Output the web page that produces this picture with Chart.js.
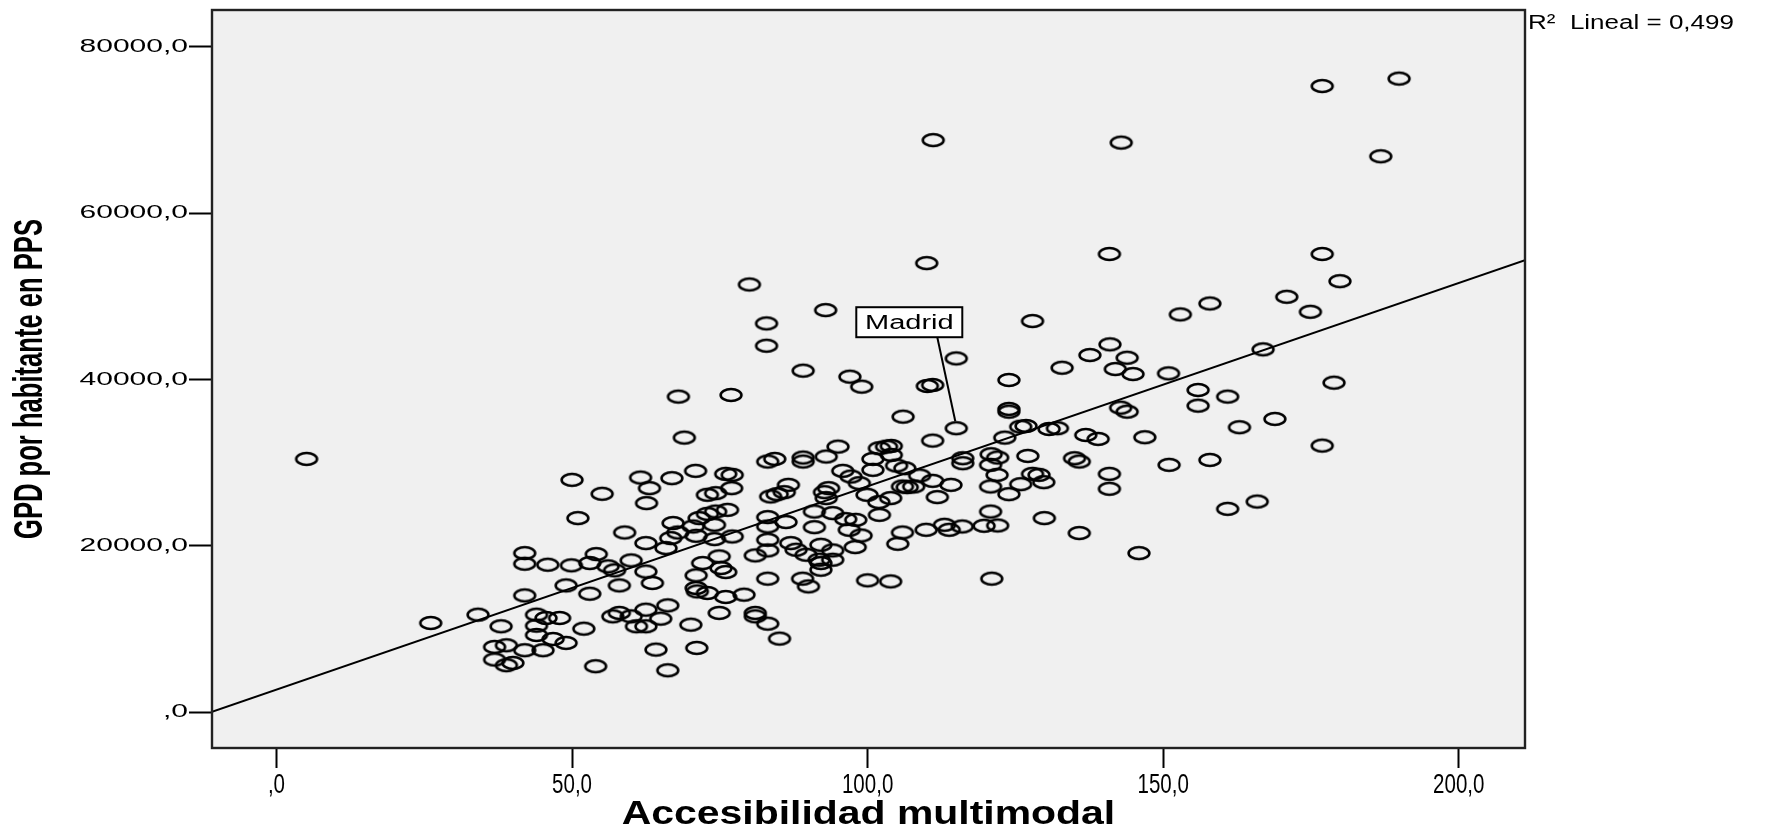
<!DOCTYPE html>
<html>
<head>
<meta charset="utf-8">
<title>Accesibilidad multimodal y GPD por habitante</title>
<script src="https://cdn.jsdelivr.net/npm/chart.js@4.4.1/dist/chart.umd.min.js"></script>
<style>
  html, body { margin: 0; padding: 0; background: #ffffff; }
  #wrap { position: relative; width: 1785px; height: 826px; }
</style>
</head>
<body>
<div id="wrap"><canvas id="chart" width="1785" height="826"></canvas></div>
<script>
// Accesibilidad multimodal (índice) por región
const accesibilidad = [
  111.1, 176.9, 189.9, 142.9, 186.8, 140.9, 176.9, 110.0, 80.0, 92.9,
  82.9, 127.9, 82.9, 115.0, 137.6, 132.9, 123.9, 89.1, 97.0, 99.0,
  110.1, 111.0, 68.0, 76.9, 123.9, 123.9, 106.0, 115.0, 69.0, 111.0,
  123.2, 125.9, 126.8, 130.7, 132.1, 136.9, 179.9, 170.9, 174.9, 157.9,
  152.9, 141.0, 143.9, 141.9, 144.9, 150.9, 166.9, 178.9, 155.9, 160.9,
  155.9, 142.8, 143.9, 139.0, 146.9, 168.9, 162.9, 176.9, 140.9, 140.9,
  151.0, 157.9, 165.9, 160.9, 145.9, 95.0, 102.0, 103.2, 104.0, 104.0,
  93.0, 89.1, 89.1, 83.1, 84.3, 100.9, 104.9, 106.3, 95.8, 100.9,
  116.1, 116.1, 120.9, 122.0, 127.1, 135.0, 135.8, 120.8, 121.9, 127.9,
  129.0, 129.8, 120.8, 125.9, 123.9, 114.1, 111.8, 111.0, 108.8, 105.9,
  106.7, 107.8, 103.9, 101.9, 99.9, 97.2, 98.6, 93.4, 92.7, 93.0,
  86.6, 85.9, 84.7, 83.6, 77.0, 76.0, 77.1, 70.9, 66.9, 72.9,
  74.3, 61.6, 63.1, 62.6, 67.1, 67.9, 70.5, 71.5, 72.9, 74.3,
  76.3, 74.1, 71.0, 66.7, 74.1, 77.1, 65.9, 62.5, 83.1, 83.1,
  86.2, 91.0, 91.0, 94.1, 96.3, 98.0, 102.0, 120.8, 129.9, 83.1,
  83.1, 81.0, 87.0, 87.9, 89.6, 92.1, 94.1, 91.8, 92.1, 94.1,
  92.1, 96.9, 98.9, 97.9, 105.9, 105.1, 109.9, 113.0, 113.8, 116.0,
  119.7, 122.0, 135.8, 121.0, 100.0, 103.9, 89.0, 90.0, 83.1, 74.9,
  72.1, 75.2, 76.0, 71.0, 62.5, 63.6, 71.0, 71.2, 72.9, 76.0,
  79.1, 66.2, 62.5, 65.0, 62.5, 70.1, 74.9, 81.0, 81.0, 83.1,
  85.1, 64.2, 71.1, 66.2, 51.0, 58.9, 42.0, 42.0, 45.9, 49.9,
  53.0, 54.1, 56.1, 57.2, 60.0, 49.0, 58.0, 53.0, 42.0, 34.1,
  26.1, 38.0, 44.0, 45.6, 47.9, 44.0, 44.0, 46.8, 49.0, 52.0,
  56.9, 58.0, 60.0, 60.9, 36.9, 38.9, 42.0, 45.1, 36.9, 38.9,
  40.0, 54.0, 5.1, 50.0, 55.1
];

// GPD por habitante en PPS, en el mismo orden
const gpdPorHabitante = [
  68800, 75300, 76200, 68500, 66850, 55100, 55100, 54000, 51430, 48350,
  46750, 47030, 44060, 42540, 42940, 41420, 39940, 41060, 40340, 39140,
  39220, 39340, 37940, 38140, 36460, 36130, 35530, 34140, 33010, 32650,
  33010, 34330, 34410, 34050, 34140, 33330, 51830, 49950, 48150, 49150,
  47830, 44230, 42620, 41260, 40660, 40740, 43630, 39620, 38740, 37940,
  36850, 36610, 36130, 32850, 33060, 35260, 34260, 32050, 28650, 26850,
  29730, 30330, 25320, 24440, 19120, 31930, 31730, 31930, 32010, 30930,
  30730, 30610, 30130, 30130, 30450, 30450, 29650, 29330, 29010, 29130,
  30530, 29930, 31010, 30610, 30810, 30530, 30130, 29730, 28530, 28650,
  28530, 27650, 27130, 27410, 26210, 27330, 25850, 27810, 28450, 27130,
  27050, 27130, 25730, 25250, 26130, 28330, 27530, 26930, 26450, 25730,
  27330, 26450, 26210, 25930, 26930, 28650, 28530, 29010, 28130, 26130,
  26330, 28210, 26930, 25130, 22730, 21600, 22320, 23330, 23840, 24120,
  24320, 22520, 21200, 20920, 20800, 21120, 19720, 20320, 23450, 22320,
  22850, 22240, 24120, 23930, 23210, 23120, 23720, 24120, 23330, 20720,
  19440, 18840, 20320, 19520, 18920, 20120, 19440, 18320, 17920, 18320,
  17120, 21920, 21240, 19840, 21600, 20240, 21920, 22520, 21920, 22320,
  22400, 22440, 21530, 16040, 15840, 15710, 16040, 15110, 16040, 18720,
  17920, 17320, 16840, 16440, 16900, 15520, 14920, 14510, 14320, 13840,
  14120, 12830, 12310, 11230, 10310, 10510, 11920, 11920, 11510, 10630,
  8830, 7510, 7710, 5020, 23330, 21600, 19120, 17840, 17720, 17640,
  17920, 19000, 17520, 17040, 18240, 15230, 15230, 14230, 14030, 11710,
  10710, 10310, 11710, 11310, 11310, 10390, 9270, 8790, 8310, 10030,
  11510, 11920, 11510, 10310, 7830, 8030, 7430, 7430, 6310, 5630,
  5910, 5510, 30450, 27930, 26250
];

// Región rotulada
const labelledRegion = { name: 'Madrid', index: 27 };

// Ajuste lineal (GPD = a + b · accesibilidad) y su R²
const fitIntercept = 2690;
const fitSlope = 244.6;
const fitLabel = 'R²  Lineal = 0,499';

// Ejes
const xRange = [-10.9, 211.2];
const yRange = [-4330, 84450];
const xTickValues = [0, 50, 100, 150, 200];
const xTickLabels = [',0', '50,0', '100,0', '150,0', '200,0'];
const yTickValues = [0, 20000, 40000, 60000, 80000];
const yTickLabels = [',0', '20000,0', '40000,0', '60000,0', '80000,0'];
const xTitle = 'Accesibilidad multimodal';
const yTitle = 'GPD por habitante en PPS';

// Hollow elliptical marker
function makeMarker() {
  const c = document.createElement('canvas');
  c.width = 28; c.height = 18;
  const g = c.getContext('2d');
  g.lineWidth = 2.6;
  g.strokeStyle = '#000';
  g.beginPath();
  g.ellipse(14, 9, 10.4, 6, 0, 0, Math.PI * 2);
  g.stroke();
  return c;
}

const points = accesibilidad.map((x, i) => ({ x, y: gpdPorHabitante[i] }));
const fitLine = xRange.map(x => ({ x, y: fitIntercept + fitSlope * x }));

function stretchedText(ctx, text, x, y, font, sx, align, baseline, angle) {
  ctx.save();
  ctx.translate(x, y);
  if (angle) ctx.rotate(angle);
  ctx.scale(sx, 1);
  ctx.font = font;
  ctx.textAlign = align;
  ctx.textBaseline = baseline;
  ctx.fillStyle = '#000';
  ctx.fillText(text, 0, 0);
  ctx.restore();
}

const SANS = '"Liberation Sans", Arial, sans-serif';

const framePlugin = {
  id: 'framePlugin',
  beforeDraw(chart) {
    const { ctx, chartArea: a } = chart;
    ctx.save();
    ctx.fillStyle = '#ffffff';
    ctx.fillRect(0, 0, chart.width, chart.height);
    ctx.fillStyle = '#f0f0f0';
    ctx.fillRect(a.left, a.top, a.right - a.left, a.bottom - a.top);
    ctx.restore();
  },
  afterDraw(chart) {
    const { ctx, chartArea: a, scales } = chart;
    const xs = scales.x, ys = scales.y;
    ctx.save();
    // plot frame
    ctx.strokeStyle = '#222';
    ctx.lineWidth = 2.4;
    ctx.strokeRect(a.left, a.top, a.right - a.left, a.bottom - a.top);

    // tick labels
    yTickValues.forEach((v, i) => {
      stretchedText(ctx, yTickLabels[i], a.left - 24, ys.getPixelForValue(v),
        '19px ' + SANS, 1.58, 'right', 'middle');
    });
    xTickValues.forEach((v, i) => {
      stretchedText(ctx, xTickLabels[i], xs.getPixelForValue(v), a.bottom + 38,
        '27px ' + SANS, 0.76, 'center', 'middle');
    });

    // axis titles
    stretchedText(ctx, xTitle, (a.left + a.right) / 2, a.bottom + 67,
      'bold 33px ' + SANS, 1.24, 'center', 'middle');
    stretchedText(ctx, yTitle, 31, (a.top + a.bottom) / 2,
      'bold 40px ' + SANS, 0.64, 'center', 'middle', -Math.PI / 2);

    // fit legend
    stretchedText(ctx, fitLabel, a.right + 3, 23, '20px ' + SANS, 1.3, 'left', 'middle');

    // region label with leader line
    const px = xs.getPixelForValue(accesibilidad[labelledRegion.index]);
    const py = ys.getPixelForValue(gpdPorHabitante[labelledRegion.index]);
    ctx.strokeStyle = '#000';
    ctx.lineWidth = 2;
    ctx.beginPath();
    ctx.moveTo(px - 19, py - 91);
    ctx.lineTo(px - 1, py - 7);
    ctx.stroke();
    ctx.fillStyle = '#ffffff';
    ctx.fillRect(px - 100, py - 121, 106, 30);
    ctx.strokeRect(px - 100, py - 121, 106, 30);
    stretchedText(ctx, labelledRegion.name, px - 47, py - 105, '20px ' + SANS, 1.45, 'center', 'middle');
    ctx.restore();
  }
};

const tickGrid = (len) => ({
  display: true,
  drawOnChartArea: false,
  drawTicks: true,
  tickLength: len,
  tickWidth: 2,
  tickColor: '#000'
});

new Chart(document.getElementById('chart'), {
  type: 'scatter',
  data: {
    datasets: [
      {
        label: 'GPD por habitante',
        data: points,
        pointStyle: makeMarker(),
        pointRadius: 6,
        pointHoverRadius: 6
      },
      {
        label: 'Lineal',
        type: 'line',
        data: fitLine,
        showLine: true,
        borderColor: '#000',
        borderWidth: 1.8,
        pointRadius: 0,
        fill: false
      }
    ]
  },
  options: {
    responsive: false,
    devicePixelRatio: 1,
    animation: false,
    layout: { padding: { top: 10, right: 260, left: 0, bottom: 0 } },
    plugins: { legend: { display: false }, tooltip: { enabled: false } },
    scales: {
      x: {
        type: 'linear',
        min: xRange[0], max: xRange[1],
        afterBuildTicks: s => { s.ticks = xTickValues.map(v => ({ value: v })); },
        afterFit: s => { s.height = 78; },
        ticks: { display: false },
        grid: tickGrid(20),
        border: { display: false }
      },
      y: {
        type: 'linear',
        min: yRange[0], max: yRange[1],
        afterBuildTicks: s => { s.ticks = yTickValues.map(v => ({ value: v })); },
        afterFit: s => { s.width = 212; },
        ticks: { display: false },
        grid: tickGrid(23),
        border: { display: false }
      }
    }
  },
  plugins: [framePlugin]
});
</script>
</body>
</html>
